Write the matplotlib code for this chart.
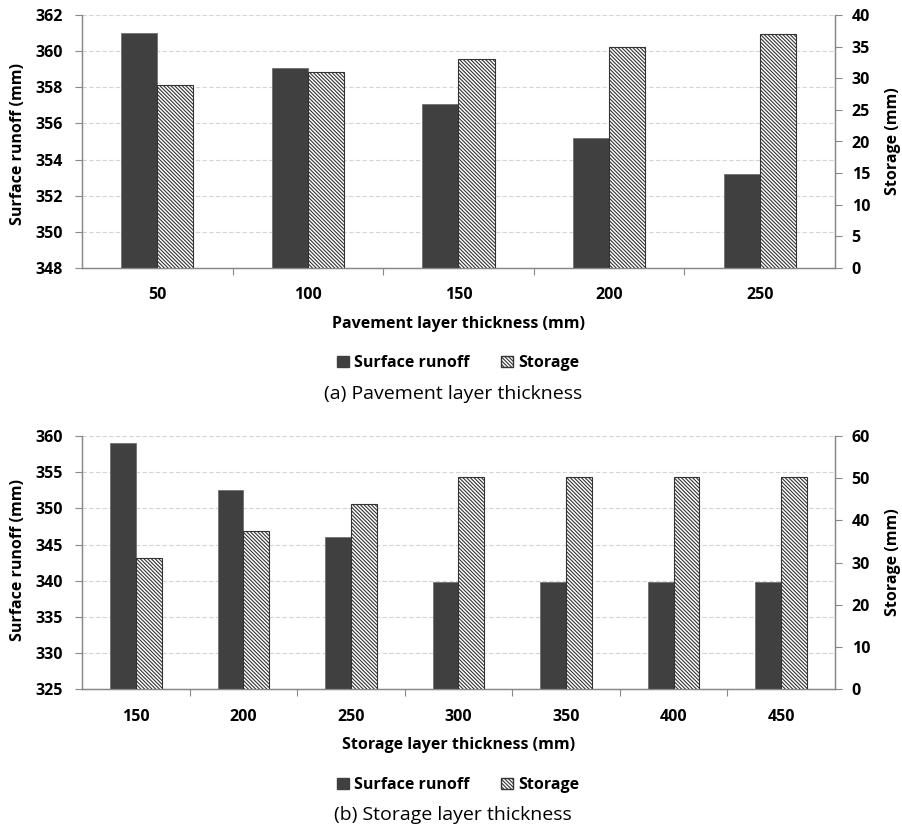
import numpy as np
import matplotlib
matplotlib.use('Agg')
import matplotlib.pyplot as plt
from matplotlib.patches import Patch

plt.rcParams['font.family'] = ['Open Sans', 'DejaVu Sans']
plt.rcParams['font.weight'] = 'bold'
plt.rcParams['axes.labelweight'] = 'bold'
plt.rcParams['hatch.linewidth'] = 0.8

# (a) pavement layer thickness
pave_thk = ['50', '100', '150', '200', '250']
pave_runoff = [361.0, 359.05, 357.1, 355.2, 353.2]
pave_storage = [29.0, 31.0, 33.0, 35.0, 37.0]

# (b) storage layer thickness
stor_thk = ['150', '200', '250', '300', '350', '400', '450']
stor_runoff = [359.0, 352.6, 346.1, 339.8, 339.8, 339.8, 339.8]
stor_storage = [31.2, 37.4, 44.0, 50.3, 50.3, 50.3, 50.3]

DARK = '#404040'
SPINE = '#888888'
HATCH = '\\' * 9
W = 1 / 903
H = 1 / 832


def draw_panel(ax, cats, runoff, storage, yl, yl_step, yr, yr_step, xlabel):
    n = len(cats)
    x = np.arange(n)
    bw = 0.24
    ax2 = ax.twinx()

    ax.bar(x - bw / 2, np.array(runoff) - yl[0], bw, bottom=yl[0],
           color=DARK, edgecolor='#707070', linewidth=0.6, zorder=3)
    ax2.bar(x + bw / 2, storage, bw, color='white', edgecolor='#333333',
            hatch=HATCH, linewidth=0.8, zorder=3)

    ax.set_xlim(-0.5, n - 0.5)
    ax.set_ylim(*yl)
    ax2.set_ylim(*yr)
    ax.set_yticks(np.arange(yl[0], yl[1] + 0.01, yl_step))
    ax2.set_yticks(np.arange(yr[0], yr[1] + 0.01, yr_step))

    ax.set_axisbelow(True)
    ax.yaxis.grid(True, color='#d4d4d4', linestyle=(0, (4, 2)), linewidth=0.8)

    # category labels in the middle, tick marks on the boundaries
    ax.set_xticks(x)
    ax.set_xticklabels(cats)
    ax.set_xticks(np.arange(0.5, n - 1, 1.0), minor=True)
    ax.tick_params(axis='x', which='major', length=0, pad=14, labelsize=11.5)
    ax.tick_params(axis='x', which='minor', length=5, color=SPINE, width=0.8)
    ax.tick_params(axis='y', length=5, color=SPINE, width=0.8, pad=9, labelsize=11.5)
    ax2.tick_params(axis='y', length=5, color=SPINE, width=0.8, pad=7, labelsize=11.5)

    for a in (ax, ax2):
        a.spines['top'].set_visible(False)
        for s in ('left', 'right', 'bottom'):
            a.spines[s].set_color(SPINE)
            a.spines[s].set_linewidth(0.9)

    ax.set_xlabel(xlabel, fontsize=11.5, fontweight='bold', labelpad=9)
    return ax2


fig = plt.figure(figsize=(9.03, 8.32), dpi=100)
ax_a = fig.add_axes([82 * W, 1 - 268 * H, 753 * W, 253 * H])
ax_b = fig.add_axes([82 * W, 1 - 689.3 * H, 753 * W, 253.3 * H])

draw_panel(ax_a, pave_thk, pave_runoff, pave_storage, (348, 362), 2, (0, 40), 5,
           'Pavement layer thickness (mm)')
draw_panel(ax_b, stor_thk, stor_runoff, stor_storage, (325, 360), 5, (0, 60), 10,
           'Storage layer thickness (mm)')

# axis titles on both sides
for yl_c, yr_c in ((144, 141.5), (560, 562.5)):
    fig.text(18 * W, 1 - yl_c * H, 'Surface runoff (mm)', rotation=90,
             ha='center', va='center', fontsize=11.5)
    fig.text(893 * W, 1 - yr_c * H, 'Storage (mm)', rotation=90,
             ha='center', va='center', fontsize=11.5)

handles = [Patch(facecolor=DARK, edgecolor=DARK, label='Surface runoff'),
           Patch(facecolor='white', edgecolor='#333333', hatch=HATCH, label='Storage')]
for yc in (363, 785):
    fig.legend(handles=handles, loc='center', bbox_to_anchor=(458 * W, 1 - yc * H),
               ncol=2, frameon=False, handlelength=0.75, handleheight=0.75,
               handletextpad=0.3, columnspacing=2.0,
               prop={'weight': 'bold', 'size': 11.5})

fig.text(453 * W, 1 - 394 * H, '(a) Pavement layer thickness', ha='center', va='center',
         fontsize=14, fontweight='normal')
fig.text(453 * W, 1 - 815 * H, '(b) Storage layer thickness', ha='center', va='center',
         fontsize=14, fontweight='normal')

fig.savefig('out.png', dpi=100)
